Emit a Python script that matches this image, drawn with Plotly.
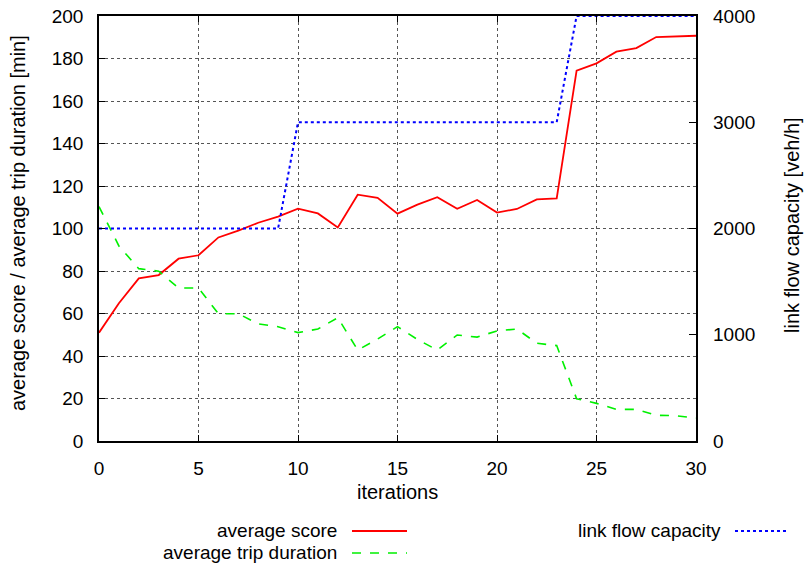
import plotly.graph_objects as go

iterations = list(range(31))
avg_score = [51.0, 64.8, 76.5, 78.1, 85.8, 87.4, 95.8, 99.0, 102.7, 105.6,
             109.3, 107.1, 100.5, 115.9, 114.4, 107.0, 111.2, 114.7, 109.3, 113.4,
             107.5, 109.2, 113.7, 114.2, 174.3, 177.7, 183.2, 184.9, 190.1, 190.4, 190.7]
avg_trip = [110.3, 91.8, 81.1, 79.9, 72.0, 72.0, 59.9, 59.9, 55.1, 53.8,
            51.0, 52.7, 58.0, 42.8, 48.0, 53.8, 47.8, 42.8, 49.9, 48.9,
            51.8, 52.7, 46.0, 44.9, 19.9, 17.7, 14.9, 14.9, 12.1, 11.9, 10.8]
capacity = [2000] * 10 + [3000] * 14 + [4000] * 7

names = ["average score", "average trip duration", "link flow capacity"]
colors = ["#ff0000", "#00f000", "#0000ff"]
dashes = ["solid", "dash", "dot"]
widths = [1.8, 1.6, 2]

FONT = "Liberation Sans, Arial, sans-serif"

fig = go.Figure()
fig.add_trace(go.Scatter(x=iterations, y=avg_score, mode="lines", name=names[0],
                         line=dict(color=colors[0], width=widths[0], dash=dashes[0])))
fig.add_trace(go.Scatter(x=iterations, y=avg_trip, mode="lines", name=names[1],
                         line=dict(color=colors[1], width=widths[1], dash=dashes[1])))
fig.add_trace(go.Scatter(x=iterations, y=capacity, mode="lines", name=names[2], yaxis="y2",
                         line=dict(color=colors[2], width=widths[2], dash=dashes[2])))

L, R, T, B = 99, 108, 16, 122
W, H = 804, 563
pw, ph = W - L - R, H - T - B

def px(xp):
    return (xp - L) / pw

def py(yp):
    return (H - B - yp) / ph

grid = dict(showgrid=True, gridcolor="#555555", gridwidth=1, griddash="dot")

fig.update_layout(
    width=W, height=H,
    margin=dict(l=L, r=R, t=T, b=B, autoexpand=False),
    paper_bgcolor="white", plot_bgcolor="white",
    showlegend=False,
    font=dict(family=FONT, size=19, color="black"),
    xaxis=dict(range=[0, 30], dtick=5, ticks="inside", ticklen=6, tickcolor="black",
               showline=True, linecolor="black", linewidth=1.5, mirror="ticks",
               zeroline=False, ticklabelstandoff=9, automargin=False, **grid),
    yaxis=dict(range=[0, 200], dtick=20, ticks="inside", ticklen=6, tickcolor="black",
               showline=True, linecolor="black", linewidth=1.5, mirror=True,
               zeroline=False, ticklabelstandoff=10, automargin=False, **grid),
    yaxis2=dict(range=[0, 4000], dtick=1000, ticks="inside", ticklen=7, tickcolor="black",
                overlaying="y", side="right", showgrid=False, zeroline=False,
                showline=False, ticklabelstandoff=16, automargin=False),
)

ann = []
ann.append(dict(text="iterations", x=px(397), y=py(492), xref="paper", yref="paper",
                showarrow=False, font=dict(size=20), xanchor="center", yanchor="middle"))
ann.append(dict(text="average score / average trip duration [min]", x=px(18), y=py(223),
                xref="paper", yref="paper", showarrow=False, textangle=-90,
                font=dict(size=20), xanchor="center", yanchor="middle"))
ann.append(dict(text="link flow capacity [veh/h]", x=px(792), y=py(225),
                xref="paper", yref="paper", showarrow=False, textangle=-90,
                font=dict(size=20), xanchor="center", yanchor="middle"))

# gnuplot-style key: text right-aligned, sample line to the right
key = [(338, 530, 352, 407), (338, 552, 352, 407), (722, 530, 735, 788)]
shapes = []
for i, (tx, ty, x0, x1) in enumerate(key):
    ann.append(dict(text=names[i], x=px(tx), y=py(ty), xref="paper", yref="paper",
                    showarrow=False, font=dict(size=19), xanchor="right", yanchor="middle",
                    borderpad=0))
    shapes.append(dict(type="line", xref="paper", yref="paper",
                       x0=px(x0), x1=px(x1), y0=py(ty + 1), y1=py(ty + 1),
                       line=dict(color=colors[i], width=widths[i], dash=dashes[i])))

fig.update_layout(annotations=ann, shapes=shapes)
fig.write_html("out.html", config={"displayModeBar": False},
               post_script="document.body.style.margin='0';document.body.style.padding='0';")
